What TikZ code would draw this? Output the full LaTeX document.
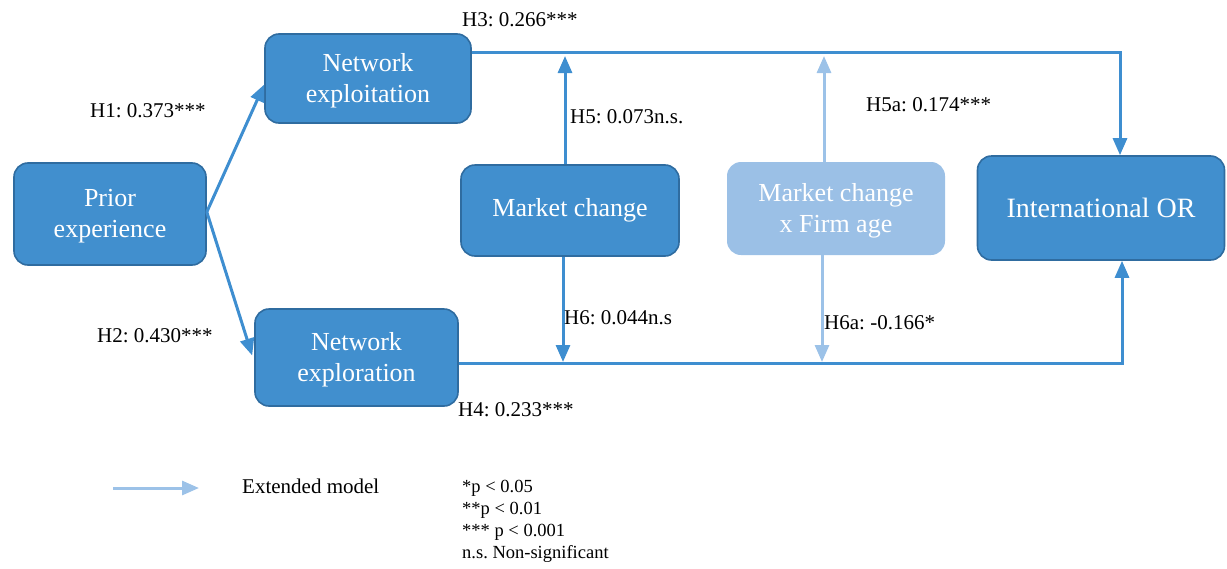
\documentclass[tikz,border=0pt]{standalone}
\usepackage{fontspec}
\setmainfont{Liberation Serif}
\usetikzlibrary{arrows.meta,calc}
\definecolor{boxfill}{RGB}{65,143,206}
\definecolor{boxline}{RGB}{47,108,160}
\definecolor{lightfill}{RGB}{155,192,230}
\definecolor{darkarrow}{RGB}{62,142,208}
\definecolor{lightarrow}{RGB}{156,194,232}
\tikzset{
  box/.style={draw=boxline, line width=1.6pt, fill=boxfill, rounded corners=14pt,
    text=white, align=center, font=\fontsize{26}{31}\selectfont, inner sep=0pt},
  lbox/.style={fill=lightfill, rounded corners=14pt,
    text=white, align=center, font=\fontsize{26}{31}\selectfont, inner sep=0pt},
  darr/.style={draw=darkarrow, line width=3pt, -{Triangle[length=17pt,width=14pt]}},
  larr/.style={draw=lightarrow, line width=3pt, -{Triangle[length=17pt,width=14pt]}},
  lab/.style={anchor=west, inner sep=0pt, font=\fontsize{21}{24}\selectfont},
  note/.style={anchor=north west, inner sep=0pt, align=left, font=\fontsize{18.5}{22}\selectfont}
}
\frenchspacing
\begin{document}
\begin{tikzpicture}[x=1pt,y=-1pt]
\useasboundingbox (0,0) rectangle (1227,568);
% boxes
\node[box, minimum width=192pt, minimum height=102pt] (prior) at (110,214) {\strut Prior\\experience};
\node[box, minimum width=206pt, minimum height=89pt] (exploit) at (368,78.5) {\strut Network\\exploitation};
\node[box, minimum width=203pt, minimum height=97pt] (explor) at (356.5,357.5) {\strut Network\\exploration};
\node[box, minimum width=218pt, minimum height=91pt] (mc) at (570,210.5) {Market change};
\node[lbox, minimum width=218pt, minimum height=93pt] (mcx) at (836,208.5) {\strut Market change\\x Firm age};
\node[box, minimum width=247pt, minimum height=104pt, font=\fontsize{28}{32}\selectfont] (intl) at (1101,208) {International OR};
% main paths
\draw[darr] ($(prior.east)+(0,-2)$) -- ($(exploit.west)+(0,6)$);
\draw[darr] ($(prior.east)+(0,-2)$) -- ($(explor.west)+(-2,-2)$);
\draw[darr] ($(exploit.east)+(0,-26)$) -| ($(intl.north)+(19,0)$);
\draw[darr] ($(explor.east)+(0,6)$) -| ($(intl.south)+(21,0)$);
% moderation
\coordinate (t5) at (565,56);
\coordinate (t5a) at (824,56);
\coordinate (t6) at (563,362);
\coordinate (t6a) at (822,362);
\draw[darr] (mc.north -| t5) -- (t5);
\draw[larr] (mcx.north -| t5a) -- (t5a);
\draw[darr] (mc.south -| t6) -- (t6);
\draw[larr] (mcx.south -| t6a) -- (t6a);
% labels
\node[lab] (l3) at (462,20) {H3: 0.266***};
\node[lab] (l1) at (90,111) {H1: 0.373***};
\node[lab] (l2) at (97,336) {H2: 0.430***};
\node[lab] (l4) at (458,410) {H4: 0.233***};
\node[lab] (l5) at (570,117) {H5: 0.073n.s.};
\node[lab] (l5a) at (866,105) {H5a: 0.174***};
\node[lab] (l6) at (564,318) {H6: 0.044n.s};
\node[lab] (l6a) at (824,323) {H6a: -0.166*};
% legend
\coordinate (lg1) at (113,488);
\coordinate (lg2) at (199,488);
\draw[larr] (lg1) -- (lg2);
\node[lab] (ext) at (242,486) {Extended model};
\node[note] (notes) at (462,480) {*p < 0.05\\**p < 0.01\\*** p < 0.001\\n.s. Non-significant};
\end{tikzpicture}
\end{document}
